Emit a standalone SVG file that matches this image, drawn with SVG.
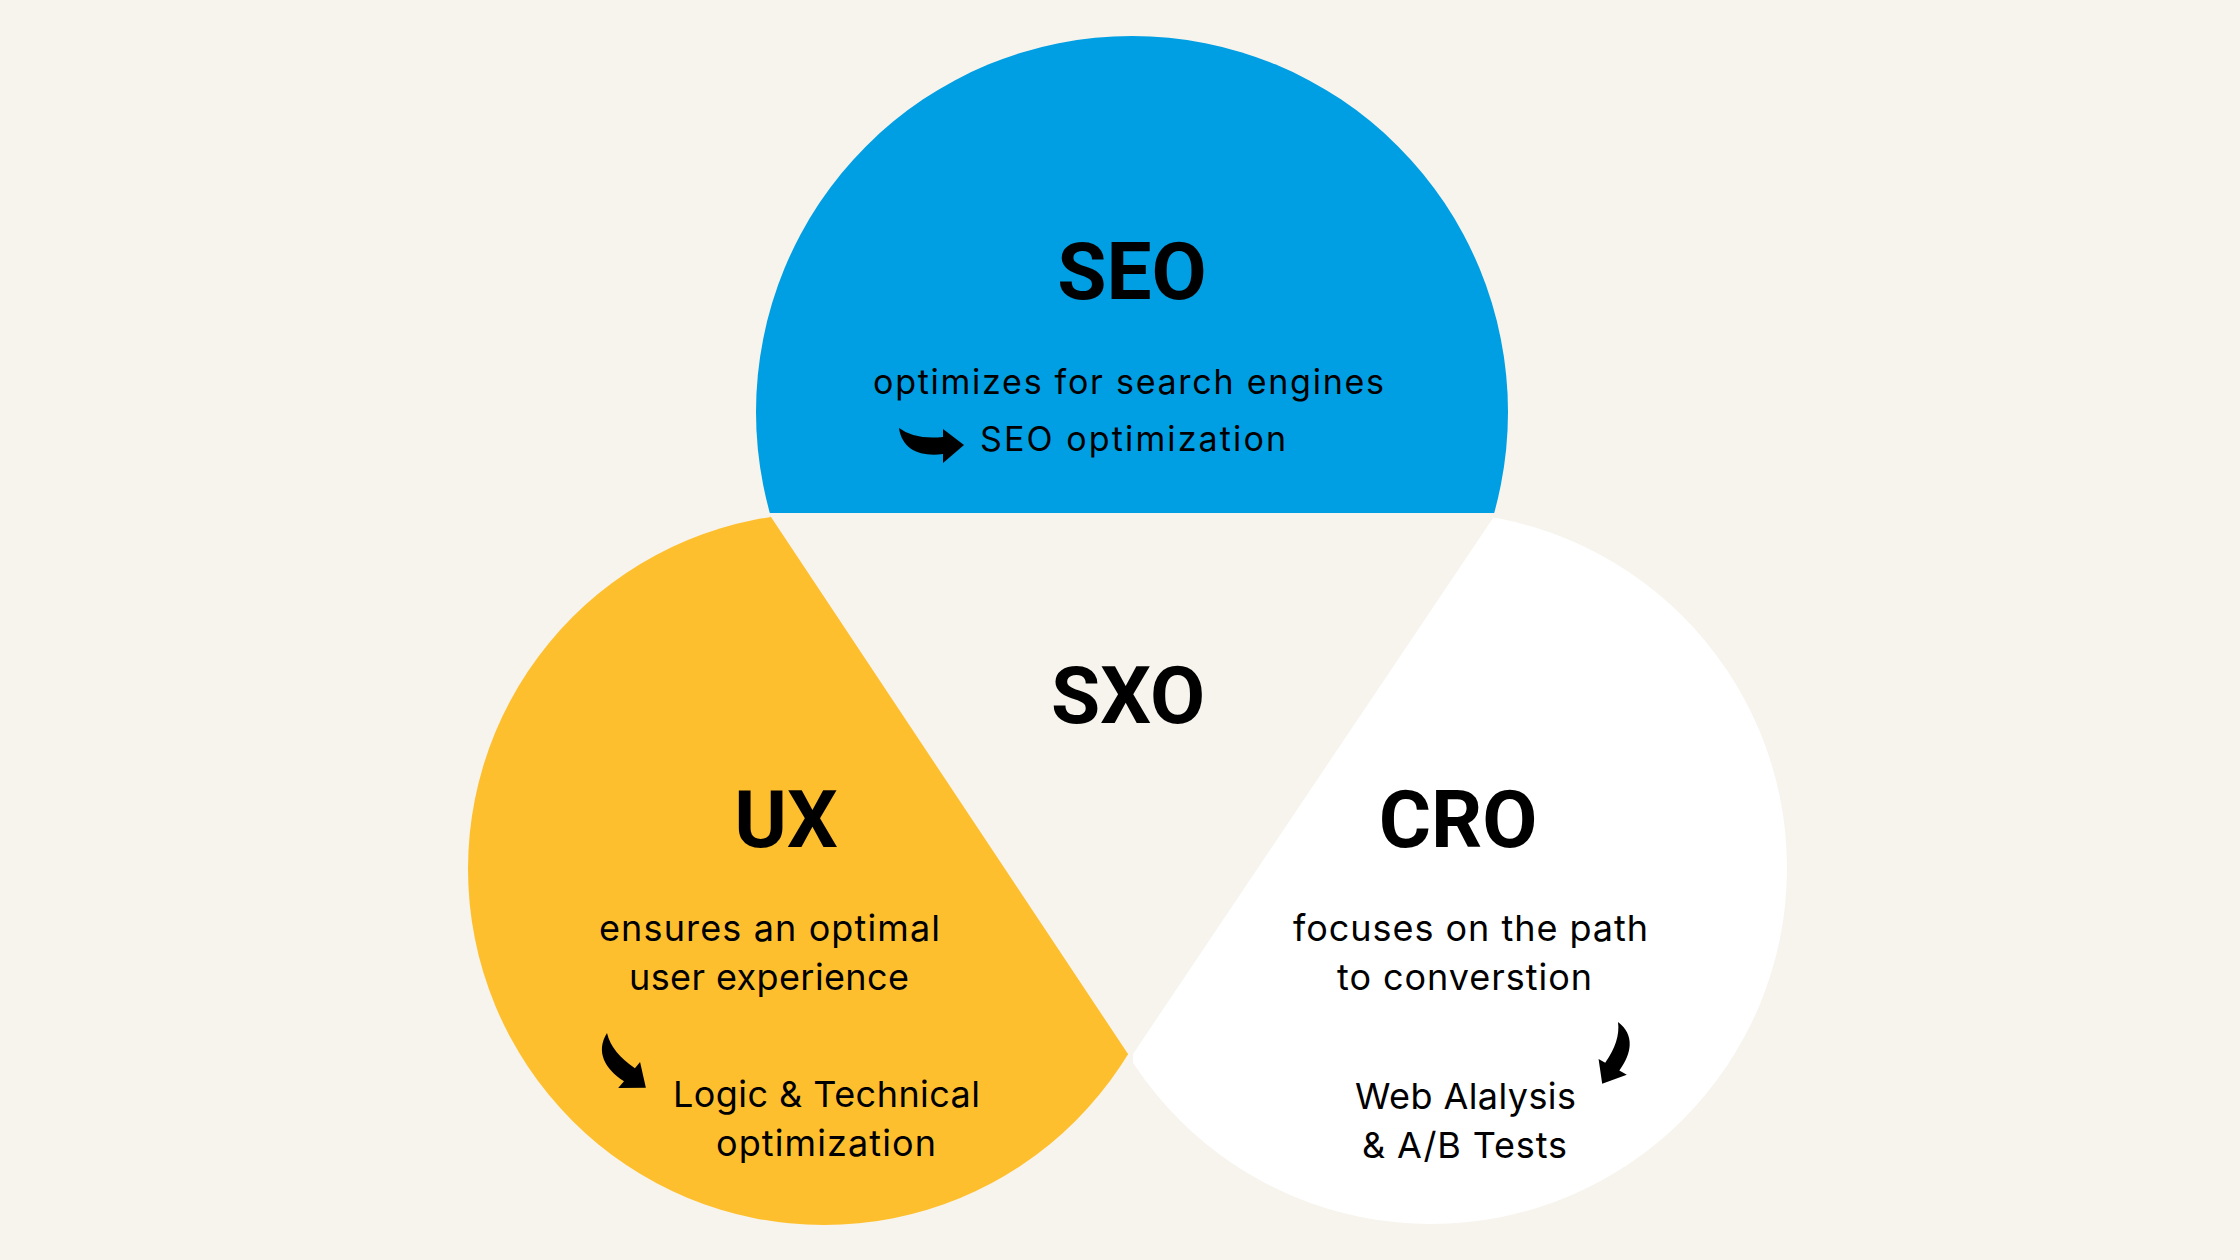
<svg xmlns="http://www.w3.org/2000/svg" width="2240" height="1260" viewBox="0 0 2240 1260">
  <style>
    .title { font-family: Roboto, "Liberation Sans", Arial, sans-serif; font-weight: 700; font-size: 80px; fill: #000; text-anchor: middle; }
    .body { font-family: Inter, "Open Sans", "Liberation Sans", sans-serif; font-weight: 400; font-size: 36px; fill: #000; }
    .small { font-size: 34px; }
    .arrow { fill: #000; }
  </style>
  <defs>
    <clipPath id="clip-seo"><rect x="0" y="0" width="2240" height="513"/></clipPath>
    <clipPath id="clip-ux"><polygon points="771,517 1128,1054 1128,1260 0,1260 0,517 0,0 771,0"/></clipPath>
    <clipPath id="clip-cro"><polygon points="1493,518 1133,1054 1133,1260 2240,1260 2240,0 1493,0"/></clipPath>
    <path id="curved-arrow" d="M0,0 Q16,12 44,9 L44,1 L65,17 L44,35 L44,26 C22,29 3,22 0,0 Z"/>
  </defs>

  <rect x="0" y="0" width="2240" height="1260" fill="#F7F4EE"/>

  <g id="node-seo">
    <circle cx="1132" cy="412" r="376" fill="#009EE2" clip-path="url(#clip-seo)"/>
    <text class="title" x="1132" y="299">SEO</text>
    <text class="body small" x="873" y="394" textLength="511" lengthAdjust="spacing">optimizes for search engines</text>
    <use href="#curved-arrow" class="arrow" transform="translate(899,428)"/>
    <text class="body small" x="980" y="451" textLength="306" lengthAdjust="spacing">SEO optimization</text>
  </g>

  <g id="node-ux">
    <circle cx="824" cy="869" r="356" fill="#FEBF2E" clip-path="url(#clip-ux)"/>
    <text class="title" x="786" y="847">UX</text>
    <text class="body" x="599" y="941" textLength="341" lengthAdjust="spacing">ensures an optimal</text>
    <text class="body" x="629" y="990" textLength="280" lengthAdjust="spacing">user experience</text>
    <use href="#curved-arrow" class="arrow" transform="translate(607,1033) rotate(40)"/>
    <text class="body" x="673" y="1107" textLength="307" lengthAdjust="spacing">Logic &amp; Technical</text>
    <text class="body" x="716" y="1156" textLength="220" lengthAdjust="spacing">optimization</text>
  </g>

  <g id="node-cro">
    <circle cx="1431" cy="868" r="356" fill="#FFFFFF" clip-path="url(#clip-cro)"/>
    <text class="title" x="1458" y="847">CRO</text>
    <text class="body" x="1293" y="941" textLength="355" lengthAdjust="spacing">focuses on the path</text>
    <text class="body" x="1337" y="990" textLength="255" lengthAdjust="spacing">to converstion</text>
    <use href="#curved-arrow" class="arrow" transform="translate(1618,1022) rotate(-61) scale(-0.95,0.95)"/>
    <text class="body" x="1355" y="1109" textLength="221" lengthAdjust="spacing">Web Alalysis</text>
    <text class="body" x="1362" y="1158" textLength="205" lengthAdjust="spacing">&amp; A/B Tests</text>
  </g>

  <g id="node-sxo">
    <text class="title" x="1128" y="723">SXO</text>
  </g>
</svg>
